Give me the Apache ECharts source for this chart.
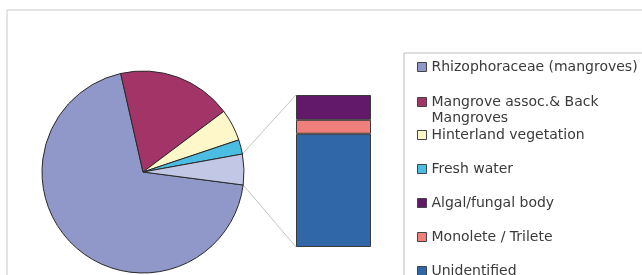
<!DOCTYPE html>
<html>
<head>
<meta charset="utf-8">
<script src="https://cdn.jsdelivr.net/npm/echarts@6/dist/echarts.min.js"></script>
<style>
  html, body { margin: 0; padding: 0; background: #fff; }
  #chart { width: 642px; height: 275px; }
</style>
</head>
<body>
<div id="chart"></div>
<script>
// main pie
const pieNames = ['Rhizophoraceae (mangroves)', 'Mangrove assoc.& Back Mangroves', 'Hinterland vegetation', 'Fresh water'];
const pieValues = [69.4, 18.3, 5.1, 2.3];
// secondary bar (the "other" slice split up)
const barNames = ['Algal/fungal body', 'Monolete / Trilete', 'Unidentified'];
const barValues = [0.8, 0.45, 3.65];

const pieColors = ['#8f98c9', '#a23467', '#fdf7c9', '#4bbde2'];
const otherColor = '#c3c7e6';
const barColors = ['#62196a', '#ef7f7a', '#2f67a9'];

const otherTotal = barValues.reduce((a, b) => a + b, 0);
const pieTotal = pieValues.reduce((a, b) => a + b, 0) + otherTotal;

const START_ANGLE = -7.4;
const CX = 143;
const CY = 172;
const R = 101;
const BAR_LEFT = 296;
const BAR_TOP = 95;
const BAR_W = 75;
const BAR_H = 152;

const chart = echarts.init(document.getElementById('chart'));

const pieData = pieNames.map((name, i) => ({
  name,
  value: pieValues[i],
  itemStyle: { color: pieColors[i] },
}));
pieData.push({ name: 'Other', value: otherTotal, itemStyle: { color: otherColor } });

// stacked from bottom: Unidentified, Monolete, Algal
const barSeries = [2, 1, 0].map(i => ({
  type: 'bar',
  name: barNames[i],
  stack: 'sec',
  barWidth: '100%',
  data: [barValues[i]],
  itemStyle: { color: barColors[i], borderColor: '#3a3a3a', borderWidth: 1 },
  emphasis: { disabled: true },
  silent: true,
}));

const legendBase = {
  orient: 'vertical',
  left: 417,
  padding: 0,
  height: 240,
  icon: 'rect',
  itemWidth: 9,
  itemHeight: 9,
  selectedMode: false,
  itemStyle: { borderColor: '#444', borderWidth: 1 },
  textStyle: {
    fontFamily: 'DejaVu Sans',
    fontSize: 14,
    lineHeight: 16,
    color: '#3a3a3a',
  },
};

chart.setOption({
  backgroundColor: '#fff',
  animation: false,
  graphic: [
    {
      id: 'frame',
      type: 'rect',
      shape: { x: 7, y: 10, width: 700, height: 300 },
      style: { fill: 'none', stroke: '#c9c9c9', lineWidth: 1 },
      silent: true,
    },
    {
      id: 'legendBox',
      type: 'rect',
      shape: { x: 404, y: 53, width: 300, height: 300 },
      style: { fill: 'none', stroke: '#bdbdbd', lineWidth: 1 },
      silent: true,
    },
  ],
  legend: [
    Object.assign({}, legendBase, { data: [pieNames[0]], top: 59 }),
    Object.assign({}, legendBase, {
      data: [pieNames[1]],
      top: 78,
      // empty first line keeps the icon level with the first text line
      formatter: name => '\n' + name.replace('Back ', 'Back\n'),
    }),
    Object.assign({}, legendBase, {
      data: [pieNames[2], pieNames[3]].concat(barNames),
      top: 127,
      itemGap: 18,
    }),
  ],
  grid: {
    left: BAR_LEFT,
    top: BAR_TOP,
    width: BAR_W,
    height: BAR_H,
  },
  xAxis: {
    type: 'category',
    data: ['other'],
    show: false,
  },
  yAxis: {
    type: 'value',
    min: 0,
    max: otherTotal,
    show: false,
  },
  series: [
    {
      type: 'pie',
      center: [CX, CY],
      radius: R,
      startAngle: START_ANGLE,
      clockwise: true,
      data: pieData,
      label: { show: false },
      labelLine: { show: false },
      itemStyle: { borderColor: '#2a2a2a', borderWidth: 1 },
      emphasis: { disabled: true },
      silent: true,
    },
  ].concat(barSeries),
});

// connector lines from the "other" slice edges to the bar corners
const rim = (deg) => {
  const a = deg * Math.PI / 180;
  return [CX + R * Math.cos(a), CY - R * Math.sin(a)];
};
const lowEdge = rim(START_ANGLE);
const highEdge = rim(START_ANGLE + otherTotal / pieTotal * 360);
const barTop = chart.convertToPixel({ gridIndex: 0 }, [0, otherTotal]);
const barBottom = chart.convertToPixel({ gridIndex: 0 }, [0, 0]);

chart.setOption({
  graphic: [
    {
      id: 'lineTop',
      type: 'line',
      shape: { x1: highEdge[0], y1: highEdge[1], x2: BAR_LEFT, y2: barTop[1] },
      style: { stroke: '#c4c4c4', lineWidth: 1 },
      silent: true,
    },
    {
      id: 'lineBottom',
      type: 'line',
      shape: { x1: lowEdge[0], y1: lowEdge[1], x2: BAR_LEFT, y2: barBottom[1] },
      style: { stroke: '#c4c4c4', lineWidth: 1 },
      silent: true,
    },
  ],
});
</script>
</body>
</html>
